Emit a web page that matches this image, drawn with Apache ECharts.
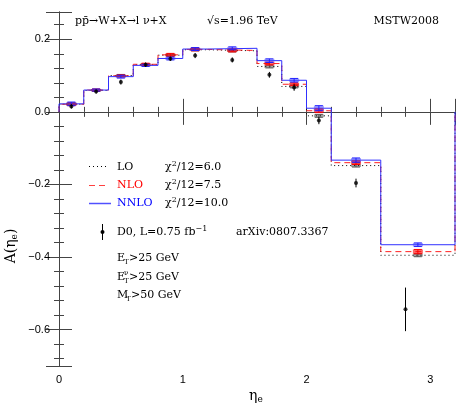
<!DOCTYPE html>
<html><head><meta charset="utf-8">
<script src="https://cdn.jsdelivr.net/npm/echarts@6/dist/echarts.min.js"></script>
<style>html,body{margin:0;padding:0;background:#fff}#c{width:458px;height:406px}</style>
</head><body><div id="c"></div>
<script>
// ---- data ----
const binEdges = [0, 0.2, 0.4, 0.6, 0.8, 1.0, 1.2, 1.6, 1.8, 2.0, 2.2, 2.6, 3.2];
const theoryX  = [0.1, 0.3, 0.5, 0.7, 0.9, 1.1, 1.4, 1.7, 1.9, 2.1, 2.4, 2.9];
const loValues   = [0.021, 0.059, 0.100, 0.130, 0.156, 0.171, 0.168, 0.125, 0.070, -0.011, -0.148, -0.395];
const nloValues  = [0.021, 0.060, 0.099, 0.131, 0.157, 0.172, 0.169, 0.133, 0.076, 0.003, -0.140, -0.385];
const nnloValues = [0.022, 0.060, 0.097, 0.128, 0.147, 0.173, 0.175, 0.141, 0.087, 0.010, -0.133, -0.366];
const loErr   = [0.003, 0.003, 0.003, 0.003, 0.003, 0.003, 0.003, 0.004, 0.004, 0.004, 0.004, 0.004];
const nloErr  = [0.004, 0.003, 0.003, 0.003, 0.004, 0.004, 0.004, 0.004, 0.004, 0.005, 0.005, 0.006];
const nnloErr = [0.005, 0.003, 0.004, 0.003, 0.004, 0.004, 0.004, 0.005, 0.005, 0.007, 0.006, 0.005];
const dataX   = [0.1, 0.3, 0.5, 0.7, 0.9, 1.1, 1.4, 1.7, 1.9, 2.1, 2.4, 2.8];
const dataY   = [0.015, 0.056, 0.082, 0.130, 0.146, 0.155, 0.143, 0.102, 0.067, -0.024, -0.196, -0.544];
const dataErr = [0.006, 0.006, 0.007, 0.006, 0.006, 0.007, 0.007, 0.008, 0.009, 0.010, 0.012, 0.060];
const xTickLabels = ['0', '1', '2', '3'];
const yTickLabels = ['\u22120.6', '\u22120.4', '\u22120.2', '0.0', '0.2'];

// ---- helpers ----
function stepPoints(vals) {
  const p = [[binEdges[0], 0]];
  for (let i = 0; i < vals.length; i++) {
    p.push([binEdges[i], vals[i]], [binEdges[i + 1], vals[i]]);
  }
  p.push([binEdges[binEdges.length - 1], 0]);
  return p;
}
function boxData(vals, errs) { return vals.map((v, i) => [theoryX[i], v, errs[i]]); }
function boxSeries(name, vals, errs, stroke, fill) {
  return {
    type: 'custom', name, data: boxData(vals, errs), z: 3,
    renderItem(params, api) {
      const x = api.value(0), y = api.value(1), e = api.value(2);
      const c = api.coord([x, y]);
      const t = api.coord([x, y + e]);
      const b = api.coord([x, y - e]);
      const hw = 5, cw = 4;
      return { type: 'group', children: [
        { type: 'rect', shape: { x: c[0] - hw, y: t[1], width: 2 * hw, height: Math.max(b[1] - t[1], 2) }, style: { fill } },
        { type: 'line', shape: { x1: c[0], y1: t[1], x2: c[0], y2: b[1] }, style: { stroke, lineWidth: 1 } },
        { type: 'line', shape: { x1: c[0] - cw, y1: t[1], x2: c[0] + cw, y2: t[1] }, style: { stroke, lineWidth: 1 } },
        { type: 'line', shape: { x1: c[0] - cw, y1: b[1], x2: c[0] + cw, y2: b[1] }, style: { stroke, lineWidth: 1 } }
      ]};
    }
  };
}
const axisColor = '#444';
const labelFont = { fontFamily: 'Liberation Sans', fontSize: 11, color: '#000' };
function yLabel(v) {
  const k = Math.round(v * 5);
  if (Math.abs(k - v * 5) > 1e-6) return '';
  const idx = k + 3;
  return yTickLabels[idx] !== undefined ? yTickLabels[idx] : '';
}
function xLabel(v) {
  if (Math.abs(v - Math.round(v)) > 1e-6) return '';
  return xTickLabels[Math.round(v)] !== undefined ? xTickLabels[Math.round(v)] : '';
}
const baseX = {
  type: 'value', min: 0, max: 3.2, interval: 1,
  axisLine: { show: true, lineStyle: { color: axisColor, width: 1 } },
  axisTick: { show: true, inside: true, length: 13, lineStyle: { color: axisColor } },
  minorTick: { show: true, splitNumber: 5, length: 5, lineStyle: { color: axisColor } },
  splitLine: { show: false }, minorSplitLine: { show: false }
};
const baseY = {
  type: 'value', min: -0.7, max: 0.275, splitNumber: 5,
  axisLine: { show: true, lineStyle: { color: axisColor, width: 1 } },
  axisTick: { show: true, inside: true, length: 13, lineStyle: { color: axisColor } },
  minorTick: { show: true, splitNumber: 5, length: 5, lineStyle: { color: axisColor } },
  splitLine: { show: false }, minorSplitLine: { show: false }
};

const serif = 'DejaVu Serif';
const fs = 11;
function txt(x, y, text, extra) {
  return { type: 'text', x, y, style: Object.assign({ text, fontFamily: serif, fontSize: fs, fill: '#000', textVerticalAlign: 'middle' }, extra || {}) };
}
const richSup = { sup: { fontFamily: serif, fontSize: 8, verticalAlign: 'top', padding: [0, 0, 6, 0] } };

const chart = echarts.init(document.getElementById('c'), null, { renderer: 'canvas' });
chart.setOption({
  animation: false,
  backgroundColor: '#fff',
  grid: { left: 59, right: 3, top: 12, bottom: 40, containLabel: false },
  xAxis: [
    Object.assign({}, baseX, { position: 'bottom', axisLabel: Object.assign({ margin: 8, formatter: xLabel, showMaxLabel: false }, labelFont) }),
    Object.assign({}, baseX, { position: 'top', axisLabel: { show: false } })
  ],
  yAxis: [
    Object.assign({}, baseY, { position: 'left', axisLabel: Object.assign({ margin: 9, formatter: yLabel }, labelFont) }),
    Object.assign({}, baseY, { position: 'right', axisLabel: { show: false } })
  ],
  series: [
    { type: 'line', name: 'LO', data: stepPoints(loValues), symbol: 'none', z: 2,
      lineStyle: { color: '#000', width: 1, type: [1, 3] } },
    { type: 'line', name: 'NLO', data: stepPoints(nloValues), symbol: 'none', z: 2,
      lineStyle: { color: '#ff2020', width: 1, type: [6, 4] } },
    { type: 'line', name: 'NNLO', data: stepPoints(nnloValues), symbol: 'none', z: 2,
      lineStyle: { color: '#3030ff', width: 1 } },
    boxSeries('LO err', loValues, loErr, '#555', 'rgba(0,0,0,0.35)'),
    boxSeries('NLO err', nloValues, nloErr, '#ff0000', 'rgba(255,0,0,0.6)'),
    boxSeries('NNLO err', nnloValues, nnloErr, '#2020ff', 'rgba(60,60,255,0.45)'),
    { type: 'custom', name: 'D0 err', z: 4, data: dataX.map((x, i) => [x, dataY[i], dataErr[i]]),
      renderItem(params, api) {
        const x = api.value(0), y = api.value(1), e = api.value(2);
        const t = api.coord([x, y + e]), b = api.coord([x, y - e]);
        return { type: 'line', shape: { x1: t[0], y1: t[1], x2: b[0], y2: b[1] }, style: { stroke: '#000', lineWidth: 1 } };
      } },
    { type: 'scatter', name: 'D0', z: 5, data: dataX.map((x, i) => [x, dataY[i]]), symbol: 'circle', symbolSize: 4,
      itemStyle: { color: '#000' } }
  ],
  graphic: [
    // header texts
    txt(75, 21, 'pp\u0304\u2192W+X\u2192l \u03bd+X'),
    txt(207, 21, '\u221as=1.96 TeV'),
    txt(439, 21, 'MSTW2008', { textAlign: 'right' }),
    // legend
    { type: 'line', shape: { x1: 89, y1: 166.5, x2: 108, y2: 166.5 }, style: { stroke: '#000', lineWidth: 1, lineDash: [1, 3] } },
    { type: 'line', shape: { x1: 89, y1: 185.5, x2: 107, y2: 185.5 }, style: { stroke: '#ff4040', lineWidth: 1, lineDash: [6, 4] } },
    { type: 'line', shape: { x1: 89, y1: 203.5, x2: 111, y2: 203.5 }, style: { stroke: '#5050ff', lineWidth: 1.5 } },
    txt(117, 167, 'LO'),
    txt(117, 185, 'NLO', { fill: '#ff0000' }),
    txt(117, 203, 'NNLO', { fill: '#0000ff' }),
    txt(165, 167, '{n|\u03c7}{sup|2}{n|/12=6.0}', { rich: Object.assign({ n: { fontFamily: serif, fontSize: fs } }, richSup) }),
    txt(165, 185, '{n|\u03c7}{sup|2}{n|/12=7.5}', { rich: Object.assign({ n: { fontFamily: serif, fontSize: fs } }, richSup) }),
    txt(165, 203, '{n|\u03c7}{sup|2}{n|/12=10.0}', { rich: Object.assign({ n: { fontFamily: serif, fontSize: fs } }, richSup) }),
    { type: 'line', shape: { x1: 102.5, y1: 224, x2: 102.5, y2: 240 }, style: { stroke: '#000', lineWidth: 1 } },
    { type: 'circle', shape: { cx: 102.5, cy: 232, r: 2 }, style: { fill: '#000' } },
    txt(117, 232, '{n|D0, L=0.75 fb}{sup|\u22121}', { rich: Object.assign({ n: { fontFamily: serif, fontSize: fs } }, richSup) }),
    txt(236, 232, 'arXiv:0807.3367'),
    // cuts
    txt(117, 258, 'E'),
    txt(124, 262, 'T', { fontSize: 7 }),
    txt(129, 258, '>25 GeV'),
    txt(117, 277, 'E'),
    txt(124, 281, 'T', { fontSize: 7 }),
    txt(124, 273, '\u03bd', { fontSize: 7 }),
    txt(129, 277, '>25 GeV'),
    txt(117, 295, 'M'),
    txt(126, 299, 'T', { fontSize: 7 }),
    txt(131, 295, '>50 GeV'),
    // axis names
    { type: 'text', x: 249, y: 396, style: { text: '{a|\u03b7}{b|e}', rich: { a: { fontFamily: serif, fontSize: 14 }, b: { fontFamily: serif, fontSize: 9, padding: [7, 0, 0, 0] } }, textVerticalAlign: 'middle' } },
    { type: 'text', x: 11, y: 246, rotation: Math.PI / 2, style: { text: '{n|A(\u03b7}{b|e}{n|)}', rich: { n: { fontFamily: serif, fontSize: 14 }, b: { fontFamily: serif, fontSize: 9, padding: [7, 0, 0, 0] } }, textAlign: 'center', textVerticalAlign: 'middle' } }
  ]
});
</script></body></html>
